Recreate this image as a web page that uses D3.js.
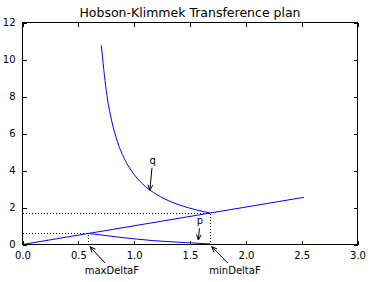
<!DOCTYPE html>
<html>
<head>
<meta charset="utf-8">
<script src="https://cdn.jsdelivr.net/npm/d3@7"></script>
<style>
  body { margin: 0; background: #fff; }
  text { font-family: "DejaVu Sans", sans-serif; fill: #000; }
</style>
</head>
<body>
<svg width="371" height="282"></svg>
<script>
// straight line
var lineX = [0, 2.52];
var lineY = [0, 2.55];
// q curve
var qX = [0.706, 0.75, 0.80, 0.85, 0.91, 1.0, 1.1, 1.2, 1.35, 1.5, 1.68];
var qY = [10.76, 8.32, 6.65, 5.56, 4.66, 3.78, 3.14, 2.71, 2.26, 1.96, 1.70];
// p curve
var pX = [0.59, 0.873, 1.17, 1.47, 1.68];
var pY = [0.60, 0.39, 0.21, 0.10, 0.03];
// dotted guides: the two crossing points
var guideX = [0.59, 1.68];
var guideY = [0.60, 1.70];
// annotations
var annLabels = ["q", "p", "maxDeltaF", "minDeltaF"];
var annTargetX = [1.14, 1.575, 0.605, 1.695];
var annTargetY = [2.92, 0.24, -0.12, -0.12];
var annTextX = [1.166, 1.59, 0.80, 1.903];
var annTextY = [4.37, 1.09, -1.59, -1.59];

var xTicks = [0, 0.5, 1, 1.5, 2, 2.5, 3];
var yTicks = [0, 2, 4, 6, 8, 10, 12];

var svg = d3.select("svg");
var mLeft = 22.5, mTop = 22.5, w = 335, h = 222;

var x = d3.scaleLinear().domain([0, 3]).range([mLeft, mLeft + w]);
var y = d3.scaleLinear().domain([0, 12]).range([mTop + h, mTop]);

var line = d3.line()
    .x(function(d) { return x(d[0]); })
    .y(function(d) { return y(d[1]); });
var smooth = d3.line()
    .x(function(d) { return x(d[0]); })
    .y(function(d) { return y(d[1]); })
    .curve(d3.curveMonotoneX);

function pairs(a, b) { return a.map(function(v, i) { return [v, b[i]]; }); }

// dotted guides
var g = svg.append("g")
    .attr("fill", "none")
    .attr("stroke", "#000")
    .attr("stroke-width", 1)
    .attr("stroke-dasharray", "1,2")
    .attr("shape-rendering", "crispEdges");
guideX.forEach(function(gx, i) {
    g.append("path").attr("d", line([[0, guideY[i]], [gx, guideY[i]]]));
    g.append("path").attr("d", line([[gx, 0], [gx, guideY[i]]]));
});

// curves
svg.append("path").attr("d", line(pairs(lineX, lineY)))
    .attr("fill", "none").attr("stroke", "#0000ff").attr("stroke-width", 1);
svg.append("path").attr("d", smooth(pairs(qX, qY)))
    .attr("fill", "none").attr("stroke", "#0000ff").attr("stroke-width", 1);
svg.append("path").attr("d", smooth(pairs(pX, pY)))
    .attr("fill", "none").attr("stroke", "#0000ff").attr("stroke-width", 1);

// frame
svg.append("rect")
    .attr("x", mLeft).attr("y", mTop).attr("width", w).attr("height", h)
    .attr("fill", "none").attr("stroke", "#000").attr("stroke-width", 1);

// axes with inward ticks, mirrored on top/right
svg.append("g").attr("transform", "translate(0," + (mTop + h) + ")")
    .call(d3.axisBottom(x).tickValues(xTicks).tickSizeInner(-4).tickSizeOuter(0)
        .tickPadding(7).tickFormat(d3.format(".1f")));
svg.append("g").attr("transform", "translate(0," + mTop + ")")
    .call(d3.axisTop(x).tickValues(xTicks).tickSizeInner(-4).tickSizeOuter(0).tickFormat(""));
svg.append("g").attr("transform", "translate(" + mLeft + ",0)")
    .call(d3.axisLeft(y).tickValues(yTicks).tickSizeInner(-4).tickSizeOuter(0).tickPadding(7));
svg.append("g").attr("transform", "translate(" + (mLeft + w) + ",0)")
    .call(d3.axisRight(y).tickValues(yTicks).tickSizeInner(-4).tickSizeOuter(0).tickFormat(""));

svg.selectAll(".domain").remove();
svg.selectAll(".tick line").attr("shape-rendering", "crispEdges");
svg.selectAll(".tick text")
    .attr("font-family", "DejaVu Sans, sans-serif")
    .attr("font-size", 10)
    .attr("fill", "#000");

// title
svg.append("text")
    .attr("x", mLeft + w / 2).attr("y", 16.5)
    .attr("text-anchor", "middle")
    .attr("font-size", 12.5)
    .text("Hobson-Klimmek Transference plan");

// annotations with "->" arrows
annLabels.forEach(function(lab, i) {
    var tx = x(annTextX[i]), ty = y(annTextY[i]);
    var px = x(annTargetX[i]), py = y(annTargetY[i]);
    svg.append("text")
        .attr("x", tx).attr("y", ty)
        .attr("text-anchor", "middle")
        .attr("font-size", 10)
        .text(lab);
    var cy = ty - 3.5;
    var dx = px - tx, dy = py - cy;
    var t = 7.5 / Math.abs(dy);
    var sx = tx + dx * t, sy = cy + dy * t;
    svg.append("line")
        .attr("x1", sx).attr("y1", sy).attr("x2", px).attr("y2", py)
        .attr("stroke", "#000").attr("stroke-width", 1);
    var ang = Math.atan2(py - sy, px - sx), hl = 6, ha = 0.4;
    svg.append("path")
        .attr("d", "M" + (px - hl * Math.cos(ang - ha)) + "," + (py - hl * Math.sin(ang - ha)) +
            "L" + px + "," + py +
            "L" + (px - hl * Math.cos(ang + ha)) + "," + (py - hl * Math.sin(ang + ha)))
        .attr("fill", "none").attr("stroke", "#000").attr("stroke-width", 1);
});
</script>
</body>
</html>
